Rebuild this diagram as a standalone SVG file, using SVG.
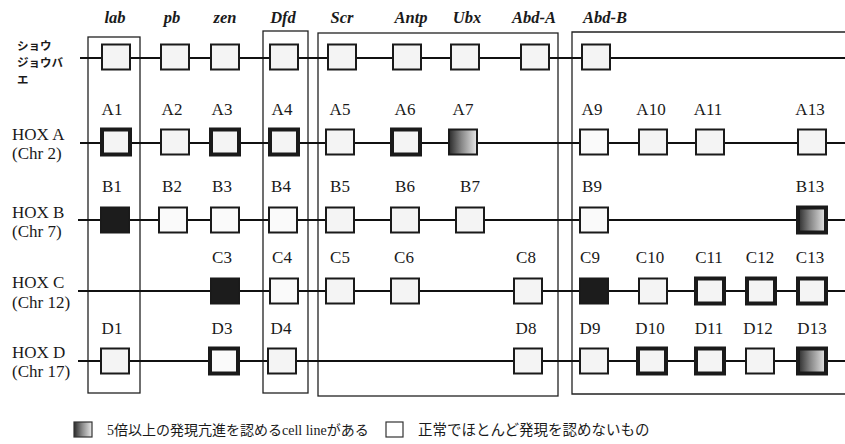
<svg xmlns="http://www.w3.org/2000/svg" width="845" height="444" viewBox="0 0 845 444">
<style>
.box{fill:#f4f4f4;stroke:#1a1a1a;stroke-width:2}
.thick{stroke-width:4}
.black{fill:#1c1c1c}
.grad{fill:url(#g)}
.lbl{font-family:"Liberation Serif",serif;font-size:17px;text-anchor:middle;fill:#1a1a1a}
.gene{font-family:"Liberation Serif",serif;font-style:italic;font-weight:bold;font-size:16.5px;text-anchor:middle;fill:#1a1a1a}
.row{font-family:"Liberation Serif",serif;font-size:17px;fill:#1a1a1a}
.jp{font-family:"Noto Sans CJK JP",sans-serif;font-weight:bold;font-size:11.5px;fill:#1a1a1a}
.leg{font-family:"Liberation Serif","Noto Sans CJK JP",serif;font-size:14px;fill:#1a1a1a}
.frame{fill:none;stroke:#222;stroke-width:1.3}
.conn{stroke:#111;stroke-width:2}
</style>
<defs>
<linearGradient id="g" x1="0" y1="0" x2="1" y2="0">
<stop offset="0" stop-color="#2a2a2a"/>
<stop offset="0.45" stop-color="#888"/>
<stop offset="1" stop-color="#e8e8e8"/>
</linearGradient>
</defs>
<rect width="845" height="444" fill="#fff"/>

<g id="frames">
<rect class="frame" x="88" y="37" width="52" height="356"/>
<rect class="frame" x="263" y="31" width="45" height="362"/>
<rect class="frame" x="318" y="33" width="240" height="363"/>
<path class="frame" d="M846 32 H572 V394 H846"/>
</g>

<g id="connectors">
<line class="conn" x1="80" y1="58" x2="845" y2="58"/>
<line class="conn" x1="80" y1="143" x2="845" y2="143"/>
<line class="conn" x1="78" y1="220" x2="845" y2="220"/>
<line class="conn" x1="78" y1="291" x2="845" y2="291"/>
<line class="conn" x1="78" y1="361" x2="845" y2="361"/>
</g>

<g id="genes">
<text class="gene" x="115" y="23">lab</text>
<text class="gene" x="172" y="23">pb</text>
<text class="gene" x="225" y="23">zen</text>
<text class="gene" x="283" y="23">Dfd</text>
<text class="gene" x="342" y="23">Scr</text>
<text class="gene" x="411" y="23">Antp</text>
<text class="gene" x="467" y="23">Ubx</text>
<text class="gene" x="534" y="23">Abd-A</text>
<text class="gene" x="605" y="23">Abd-B</text>
</g>

<g id="row-labels">
<text class="jp" x="17" y="50">ショウ</text>
<text class="jp" x="17" y="67">ジョウバ</text>
<text class="jp" x="17" y="84">エ</text>
<text class="row" x="12" y="140">HOX A</text>
<text class="row" x="12" y="159">(Chr 2)</text>
<text class="row" x="12" y="218">HOX B</text>
<text class="row" x="12" y="237">(Chr 7)</text>
<text class="row" x="12" y="288">HOX C</text>
<text class="row" x="12" y="308">(Chr 12)</text>
<text class="row" x="12" y="358">HOX D</text>
<text class="row" x="12" y="377">(Chr 17)</text>
</g>

<g id="fly">
<g id="fly-lab"><rect class="box" x="102" y="44.5" width="28" height="25"/></g>
<g id="fly-pb"><rect class="box" x="161" y="44.5" width="28" height="25"/></g>
<g id="fly-zen"><rect class="box" x="211" y="44.5" width="28" height="25"/></g>
<g id="fly-Dfd"><rect class="box" x="270" y="44.5" width="28" height="25"/></g>
<g id="fly-Scr"><rect class="box" x="328" y="44.5" width="28" height="25"/></g>
<g id="fly-Antp"><rect class="box" x="393" y="44.5" width="28" height="25"/></g>
<g id="fly-Ubx"><rect class="box" x="451" y="44.5" width="28" height="25"/></g>
<g id="fly-AbdA"><rect class="box" x="521" y="44.5" width="28" height="25"/></g>
<g id="fly-AbdB"><rect class="box" x="582" y="44.5" width="28" height="25"/></g>
</g>

<g id="hoxa">
<g id="A1"><text class="lbl" x="112" y="115">A1</text><rect class="box thick" x="102" y="129.5" width="28" height="25"/></g>
<g id="A2"><text class="lbl" x="172" y="115">A2</text><rect class="box" x="161" y="129.5" width="28" height="25"/></g>
<g id="A3"><text class="lbl" x="222" y="115">A3</text><rect class="box thick" x="211" y="129.5" width="28" height="25"/></g>
<g id="A4"><text class="lbl" x="282" y="115">A4</text><rect class="box thick" x="270" y="129.5" width="28" height="25"/></g>
<g id="A5"><text class="lbl" x="340" y="115">A5</text><rect class="box" x="326" y="129.5" width="28" height="25"/></g>
<g id="A6"><text class="lbl" x="405" y="115">A6</text><rect class="box thick" x="392" y="129.5" width="28" height="25"/></g>
<g id="A7"><text class="lbl" x="463" y="115">A7</text><rect class="box grad" x="449" y="129.5" width="28" height="25"/></g>
<g id="A9"><text class="lbl" x="592" y="115">A9</text><rect class="box" x="580" y="129.5" width="28" height="25" style="fill:#fafafa"/></g>
<g id="A10"><text class="lbl" x="651" y="115">A10</text><rect class="box" x="639" y="129.5" width="28" height="25"/></g>
<g id="A11"><text class="lbl" x="708" y="115">A11</text><rect class="box" x="696" y="129.5" width="28" height="25"/></g>
<g id="A13"><text class="lbl" x="810" y="115">A13</text><rect class="box" x="798" y="129.5" width="28" height="25"/></g>
</g>

<g id="hoxb">
<g id="B1"><text class="lbl" x="112" y="192">B1</text><rect class="box black" x="101" y="207.5" width="28" height="25"/></g>
<g id="B2"><text class="lbl" x="172" y="192">B2</text><rect class="box" x="159" y="207.5" width="28" height="25" style="fill:#fafafa"/></g>
<g id="B3"><text class="lbl" x="222" y="192">B3</text><rect class="box" x="211" y="207.5" width="28" height="25" style="fill:#fafafa"/></g>
<g id="B4"><text class="lbl" x="281" y="192">B4</text><rect class="box" x="269" y="207.5" width="28" height="25" style="fill:#fafafa"/></g>
<g id="B5"><text class="lbl" x="340" y="192">B5</text><rect class="box" x="326" y="207.5" width="28" height="25"/></g>
<g id="B6"><text class="lbl" x="405" y="192">B6</text><rect class="box" x="391" y="207.5" width="28" height="25"/></g>
<g id="B7"><text class="lbl" x="470" y="192">B7</text><rect class="box" x="456" y="207.5" width="28" height="25"/></g>
<g id="B9"><text class="lbl" x="592" y="192">B9</text><rect class="box" x="580" y="207.5" width="28" height="25" style="fill:#fafafa"/></g>
<g id="B13"><text class="lbl" x="810" y="192">B13</text><rect class="box thick grad" x="798" y="207.5" width="28" height="25"/></g>
</g>

<g id="hoxc">
<g id="C3"><text class="lbl" x="222" y="263">C3</text><rect class="box black" x="211" y="278.5" width="28" height="25"/></g>
<g id="C4"><text class="lbl" x="282" y="263">C4</text><rect class="box" x="270" y="278.5" width="28" height="25" style="fill:#fafafa"/></g>
<g id="C5"><text class="lbl" x="340" y="263">C5</text><rect class="box" x="326" y="278.5" width="28" height="25"/></g>
<g id="C6"><text class="lbl" x="404" y="263">C6</text><rect class="box" x="391" y="278.5" width="28" height="25"/></g>
<g id="C8"><text class="lbl" x="526" y="263">C8</text><rect class="box" x="514" y="278.5" width="28" height="25"/></g>
<g id="C9"><text class="lbl" x="590" y="263">C9</text><rect class="box black" x="580" y="278.5" width="28" height="25"/></g>
<g id="C10"><text class="lbl" x="650" y="263">C10</text><rect class="box" x="639" y="278.5" width="28" height="25"/></g>
<g id="C11"><text class="lbl" x="709" y="263">C11</text><rect class="box thick" x="696" y="278.5" width="28" height="25"/></g>
<g id="C12"><text class="lbl" x="760" y="263">C12</text><rect class="box thick" x="747" y="278.5" width="28" height="25"/></g>
<g id="C13"><text class="lbl" x="810" y="263">C13</text><rect class="box thick" x="798" y="278.5" width="28" height="25"/></g>
</g>

<g id="hoxd">
<g id="D1"><text class="lbl" x="112" y="334">D1</text><rect class="box" x="101" y="348.5" width="28" height="25"/></g>
<g id="D3"><text class="lbl" x="222" y="334">D3</text><rect class="box thick" x="210" y="348.5" width="28" height="25" style="fill:#fafafa"/></g>
<g id="D4"><text class="lbl" x="281" y="334">D4</text><rect class="box" x="268" y="348.5" width="28" height="25"/></g>
<g id="D8"><text class="lbl" x="526" y="334">D8</text><rect class="box" x="514" y="348.5" width="28" height="25"/></g>
<g id="D9"><text class="lbl" x="590" y="334">D9</text><rect class="box" x="580" y="348.5" width="28" height="25"/></g>
<g id="D10"><text class="lbl" x="650" y="334">D10</text><rect class="box thick" x="638" y="348.5" width="28" height="25"/></g>
<g id="D11"><text class="lbl" x="709" y="334">D11</text><rect class="box thick" x="696" y="348.5" width="28" height="25"/></g>
<g id="D12"><text class="lbl" x="758" y="334">D12</text><rect class="box" x="746" y="348.5" width="28" height="25"/></g>
<g id="D13"><text class="lbl" x="812" y="334">D13</text><rect class="box thick grad" x="798" y="348.5" width="28" height="25"/></g>
</g>

<g id="legend">
<rect x="74" y="422" width="18" height="15" style="fill:url(#g);stroke:#333;stroke-width:1.2"/>
<text class="leg" x="107" y="435">5倍以上の発現亢進を認めるcell lineがある</text>
<rect x="386" y="422" width="17" height="15" style="fill:#fff;stroke:#333;stroke-width:1.2"/>
<text class="leg" x="418" y="435" style="font-size:14.5px">正常でほとんど発現を認めないもの</text>
</g>
</svg>
